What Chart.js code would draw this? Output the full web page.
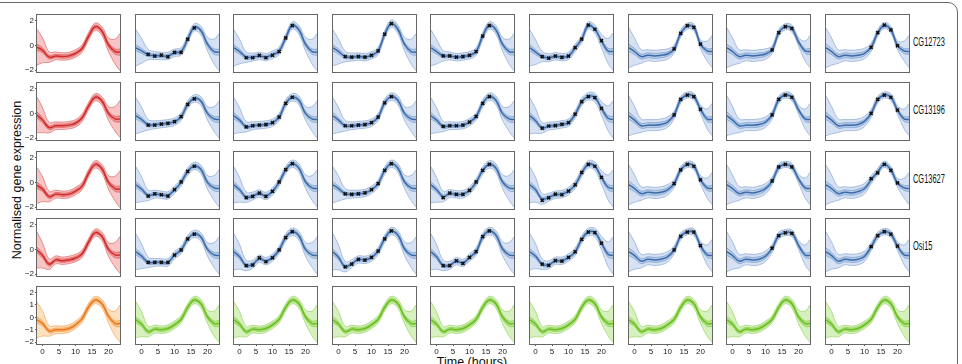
<!DOCTYPE html>
<html>
<head>
    <script src="https://cdn.jsdelivr.net/npm/chart.js"></script>
    <style>
        body {
            margin: 0;
            background: #fff;
            font-family: "DejaVu Sans", Arial, sans-serif;
        }
        #wrap {
            position: relative;
            width: 962px;
            height: 364px;
            overflow: hidden;
        }
        .frame {
            position: absolute;
            left: -14px;
            top: 2px;
            width: 970px;
            height: 420px;
            border: 1.5px solid #666;
            border-radius: 10px;
        }
        canvas {
            position: absolute;
        }
        .gene {
            position: absolute;
            font-family: "Liberation Sans", Arial, sans-serif;
            font-size: 12px;
            line-height: 12px;
            transform: scaleX(0.62);
            transform-origin: left center;
            color: #111;
        }
        .ytitle {
            position: absolute;
            left: 17px;
            top: 180px;
            font-family: "Liberation Sans", Arial, sans-serif;
            font-size: 12.5px;
            white-space: nowrap;
            transform: translate(-50%, -50%) rotate(-90deg);
            color: #111;
        }
        .xtitle {
            position: absolute;
            left: 472px;
            top: 355px;
            font-family: "Liberation Sans", Arial, sans-serif;
            font-size: 12.5px;
            transform: translateX(-50%);
            color: #111;
        }
    </style>
</head>
<body>
<div id="wrap">
    <div class="frame"></div>
    <div class="ytitle">Normalised gene expression</div>
    <div class="xtitle">Time (hours)</div>
</div>

<script>
    // time grid the curves are read at, and tick labels
    const T = [-1.7, 0, 2, 4, 6, 8, 10, 12, 14, 16, 18, 20, 22, 23.5];
    const xTicks = [0, 5, 10, 15, 20];
    const yTicks = [-2, -1, 0, 1, 2];
    const genes = ['CG12723', 'CG13196', 'CG13627', 'Osi15'];

    // observation times for each column (first column has none)
    const early = [2, 4, 6, 8, 10, 12, 14, 16];
    const markTimes = [[], early, early, early, early,
        [2, 4, 6, 8, 10, 12, 14, 16, 18, 20], [12, 14, 16, 18, 20], [12, 14, 16, 18], [12, 14, 16, 18, 20]];

    // band half widths (outer = wide band, inner = narrow band), read at T
    const outerEarly = [1.45, 1.0, 0.42, 0.32, 0.3, 0.3, 0.3, 0.3, 0.3, 0.3, 0.35, 0.55, 1.0, 1.5];
    const innerEarly = [0.25, 0.2, 0.15, 0.14, 0.14, 0.14, 0.14, 0.14, 0.14, 0.14, 0.15, 0.18, 0.22, 0.25];
    const outerLate = [1.6, 1.1, 0.55, 0.45, 0.45, 0.45, 0.42, 0.32, 0.28, 0.25, 0.28, 0.35, 0.8, 1.3];
    const innerLate = [0.3, 0.25, 0.2, 0.2, 0.2, 0.2, 0.18, 0.15, 0.13, 0.12, 0.13, 0.15, 0.2, 0.25];

    // posterior means, one row of panels each
    const meanRow1 = [
        [-0.15, -0.4, -0.95, -0.85, -0.9, -0.85, -0.65, -0.25, 0.75, 1.5, 1.15, 0.05, -0.5, -0.55],
        [-0.2, -0.45, -0.75, -0.82, -0.85, -0.85, -0.6, -0.5, 0.5, 1.45, 1.2, 0.1, -0.5, -0.55],
        [-0.2, -0.5, -0.95, -0.95, -0.85, -0.95, -0.75, -0.45, 0.6, 1.6, 1.25, 0.1, -0.5, -0.55],
        [-0.2, -0.5, -0.9, -0.95, -0.9, -0.95, -0.8, -0.45, 0.9, 1.75, 1.3, 0.1, -0.5, -0.55],
        [-0.2, -0.5, -0.85, -0.85, -0.95, -0.9, -0.8, -0.5, 0.75, 1.6, 1.25, 0.1, -0.5, -0.55],
        [-0.2, -0.55, -0.9, -1.0, -0.88, -0.95, -0.85, -0.2, 0.5, 1.6, 1.3, 0.35, -0.45, -0.5],
        [-0.2, -0.5, -0.9, -0.8, -0.85, -0.8, -0.7, -0.3, 0.95, 1.55, 1.45, 0.1, -0.45, -0.5],
        [-0.2, -0.5, -0.9, -0.8, -0.85, -0.8, -0.7, -0.35, 1.0, 1.5, 1.35, 0.3, -0.45, -0.5],
        [-0.2, -0.5, -0.9, -0.8, -0.85, -0.8, -0.65, -0.15, 1.0, 1.6, 1.25, 0.0, -0.45, -0.5]
    ];
    const meanRow2 = [
        [-0.13, -0.55, -1.15, -1.0, -1.0, -0.95, -0.8, -0.35, 0.6, 1.3, 1.0, 0.0, -0.45, -0.45],
        [-0.2, -0.5, -0.92, -0.92, -0.86, -0.8, -0.67, -0.27, 0.72, 1.2, 1.0, 0.0, -0.45, -0.5],
        [-0.2, -0.55, -1.08, -1.0, -0.95, -0.9, -0.75, -0.3, 0.8, 1.3, 1.05, 0.0, -0.45, -0.5],
        [-0.2, -0.55, -1.0, -1.0, -0.95, -0.9, -0.75, -0.3, 0.85, 1.35, 1.05, 0.0, -0.45, -0.5],
        [-0.2, -0.55, -1.05, -1.0, -1.0, -0.95, -0.7, -0.25, 0.8, 1.35, 1.05, 0.0, -0.45, -0.5],
        [-0.2, -0.6, -1.18, -1.02, -0.98, -0.88, -0.75, -0.08, 0.92, 1.37, 1.27, 0.4, -0.4, -0.5],
        [-0.2, -0.55, -1.0, -0.95, -0.95, -0.9, -0.7, -0.13, 1.1, 1.48, 1.35, 0.33, -0.45, -0.5],
        [-0.2, -0.55, -1.0, -0.95, -0.95, -0.9, -0.7, -0.13, 1.1, 1.48, 1.3, 0.3, -0.45, -0.5],
        [-0.2, -0.55, -1.0, -0.95, -0.95, -0.9, -0.65, 0.0, 1.1, 1.48, 1.3, 0.27, -0.45, -0.5]
    ];
    const meanRow3 = [
        [-0.25, -0.55, -1.15, -0.95, -1.0, -0.95, -0.7, -0.3, 0.75, 1.45, 1.1, 0.0, -0.5, -0.55],
        [-0.2, -0.55, -1.05, -0.95, -1.0, -1.05, -0.6, 0.0, 0.88, 1.32, 1.05, 0.0, -0.45, -0.5],
        [-0.2, -0.6, -1.2, -1.1, -0.9, -1.1, -0.72, 0.0, 1.0, 1.5, 1.15, 0.05, -0.45, -0.5],
        [-0.2, -0.5, -0.92, -0.95, -0.92, -0.85, -0.6, -0.1, 0.95, 1.5, 1.15, 0.05, -0.45, -0.5],
        [-0.2, -0.6, -1.15, -0.9, -0.97, -0.95, -0.65, 0.0, 0.95, 1.45, 1.15, 0.05, -0.45, -0.5],
        [-0.2, -0.6, -1.35, -1.2, -1.0, -0.95, -0.7, -0.2, 0.75, 1.45, 1.3, 0.4, -0.4, -0.5],
        [-0.2, -0.5, -0.9, -0.8, -0.85, -0.8, -0.6, -0.1, 1.0, 1.45, 1.3, 0.2, -0.45, -0.5],
        [-0.2, -0.5, -0.9, -0.8, -0.85, -0.75, -0.5, 0.1, 1.2, 1.45, 1.25, 0.3, -0.45, -0.5],
        [-0.2, -0.5, -0.9, -0.8, -0.85, -0.75, -0.5, 0.2, 0.85, 1.45, 1.0, -0.05, -0.45, -0.5]
    ];
    const meanRow4 = [
        [-0.05, -0.5, -1.2, -0.85, -0.92, -0.85, -0.7, -0.35, 0.6, 1.35, 1.05, 0.0, -0.45, -0.45],
        [-0.2, -0.55, -1.05, -1.05, -1.05, -1.05, -0.46, -0.05, 0.84, 1.25, 1.0, 0.0, -0.45, -0.5],
        [-0.2, -0.6, -1.3, -1.2, -0.75, -0.95, -0.65, -0.05, 0.95, 1.42, 1.1, 0.0, -0.45, -0.5],
        [-0.2, -0.65, -1.4, -1.15, -0.82, -0.85, -0.65, -0.14, 0.85, 1.48, 1.15, 0.05, -0.45, -0.5],
        [-0.2, -0.6, -1.3, -1.28, -0.95, -1.1, -0.65, -0.18, 1.0, 1.48, 1.15, 0.05, -0.45, -0.5],
        [-0.2, -0.55, -1.2, -1.25, -0.92, -0.92, -0.65, -0.2, 0.8, 1.4, 1.35, 0.5, -0.4, -0.5],
        [-0.2, -0.5, -0.95, -0.8, -0.85, -0.8, -0.6, -0.05, 1.05, 1.42, 1.38, 0.3, -0.45, -0.5],
        [-0.2, -0.5, -0.95, -0.8, -0.85, -0.8, -0.55, 0.08, 1.1, 1.35, 1.3, 0.35, -0.45, -0.5],
        [-0.2, -0.5, -0.95, -0.8, -0.85, -0.8, -0.55, 0.2, 1.1, 1.43, 1.22, 0.27, -0.45, -0.5]
    ];
    const meanRow5 = [
        [-0.2, -0.5, -1.1, -1.0, -1.0, -0.9, -0.6, -0.1, 0.85, 1.4, 1.1, 0.1, -0.5, -0.5],
        [-0.2, -0.55, -1.15, -0.95, -1.0, -0.9, -0.6, -0.15, 0.8, 1.4, 1.1, 0.05, -0.5, -0.5],
        [-0.2, -0.55, -1.15, -0.95, -1.0, -0.9, -0.6, -0.15, 0.8, 1.4, 1.1, 0.05, -0.5, -0.5],
        [-0.2, -0.55, -1.15, -0.95, -1.0, -0.9, -0.6, -0.15, 0.8, 1.4, 1.1, 0.05, -0.5, -0.5],
        [-0.2, -0.55, -1.15, -0.95, -1.0, -0.9, -0.6, -0.15, 0.8, 1.4, 1.1, 0.05, -0.5, -0.5],
        [-0.2, -0.55, -1.15, -0.95, -1.0, -0.9, -0.6, -0.15, 0.8, 1.4, 1.1, 0.05, -0.5, -0.5],
        [-0.2, -0.55, -1.15, -0.95, -1.0, -0.9, -0.6, -0.15, 0.8, 1.4, 1.1, 0.05, -0.5, -0.5],
        [-0.2, -0.55, -1.15, -0.95, -1.0, -0.9, -0.6, -0.15, 0.8, 1.4, 1.1, 0.05, -0.5, -0.5],
        [-0.2, -0.55, -1.15, -0.95, -1.0, -0.9, -0.6, -0.15, 0.8, 1.4, 1.1, 0.05, -0.5, -0.5]
    ];
    const means = [meanRow1, meanRow2, meanRow3, meanRow4, meanRow5];

    // observed values (x marks), matching markTimes
    const markRow1 = [[],
        [-0.72, -0.86, -0.78, -0.92, -0.57, -0.57, 0.5, 1.41],
        [-1.0, -1.0, -0.8, -1.0, -0.8, -0.5, 0.6, 1.6],
        [-0.9, -0.95, -0.9, -0.95, -0.8, -0.45, 0.9, 1.75],
        [-0.85, -0.85, -0.95, -0.9, -0.8, -0.5, 0.75, 1.6],
        [-0.91, -1.04, -0.86, -0.96, -0.86, -0.19, 0.51, 1.64, 1.3, 0.38],
        [-0.29, 0.97, 1.59, 1.46, 0.09],
        [-0.37, 1.02, 1.51, 1.38],
        [-0.16, 1.02, 1.64, 1.24, -0.03]];
    const markRow2 = [[],
        [-0.94, -0.94, -0.86, -0.8, -0.67, -0.27, 0.73, 1.16],
        [-1.1, -1.0, -0.95, -0.9, -0.75, -0.3, 0.8, 1.3],
        [-1.0, -1.0, -0.95, -0.9, -0.75, -0.3, 0.85, 1.35],
        [-1.05, -1.0, -1.0, -0.95, -0.7, -0.25, 0.8, 1.35],
        [-1.2, -1.02, -0.99, -0.88, -0.75, -0.07, 0.94, 1.35, 1.27, 0.41],
        [-0.13, 1.13, 1.48, 1.35, 0.33],
        [-0.13, 1.13, 1.48, 1.3],
        [0.0, 1.13, 1.48, 1.3, 0.27]];
    const markRow3 = [[],
        [-1.11, -0.92, -1.0, -1.11, -0.59, 0.03, 0.89, 1.3],
        [-1.24, -1.14, -0.86, -1.14, -0.73, 0.03, 1.03, 1.51],
        [-0.92, -0.97, -0.92, -0.84, -0.59, -0.11, 0.97, 1.51],
        [-1.24, -0.86, -0.97, -0.97, -0.65, 0.03, 0.97, 1.46],
        [-1.45, -1.25, -0.95, -1.0, -0.7, -0.2, 0.8, 1.45, 1.3, 0.4],
        [-0.1, 1.0, 1.45, 1.3, 0.2],
        [0.11, 1.24, 1.46, 1.24],
        [0.3, 0.76, 1.46, 0.97, -0.05]];
    const markRow4 = [[],
        [-1.05, -1.05, -1.05, -1.05, -0.46, -0.05, 0.84, 1.22],
        [-1.32, -1.27, -0.68, -1.0, -0.68, -0.05, 0.95, 1.43],
        [-1.41, -1.19, -0.81, -0.86, -0.65, -0.14, 0.84, 1.49],
        [-1.32, -1.32, -0.92, -1.14, -0.65, -0.19, 1.03, 1.49],
        [-1.2, -1.3, -0.9, -0.95, -0.65, -0.2, 0.8, 1.4, 1.35, 0.5],
        [-0.05, 1.05, 1.4, 1.4, 0.3],
        [0.09, 1.1, 1.34, 1.29],
        [0.22, 1.1, 1.43, 1.22, 0.27]];
    const marks = [markRow1, markRow2, markRow3, markRow4];

    const colours = {
        red:    { line: '#d02a2a', edge: 'rgba(215,60,60,0.75)', outer: 'rgba(232,90,90,0.35)', inner: 'rgba(220,60,60,0.35)' },
        blue:   { line: '#3b6aa8', edge: 'rgba(70,115,180,0.6)', outer: 'rgba(120,160,215,0.3)', inner: 'rgba(100,145,205,0.3)' },
        orange: { line: '#e8791e', edge: 'rgba(235,130,40,0.7)', outer: 'rgba(250,165,70,0.35)', inner: 'rgba(245,140,40,0.35)' },
        green:  { line: '#6cbf1e', edge: 'rgba(110,195,40,0.7)', outer: 'rgba(140,215,70,0.35)', inner: 'rgba(115,200,45,0.35)' }
    };

    const rowTop = [15, 83, 152, 219, 287];
    const plotW = 83, plotH = 57, yAxisW = 21, xAxisH = 14;

    const framePlugin = {
        id: 'frame',
        afterDatasetsDraw(chart) {
            let a = chart.chartArea, ctx = chart.ctx;
            ctx.save();
            ctx.strokeStyle = '#666';
            ctx.lineWidth = 1;
            ctx.strokeRect(Math.round(a.left) - 0.5, Math.round(a.top) - 0.5,
                Math.round(a.right - a.left) + 1, Math.round(a.bottom - a.top) + 1);
            ctx.restore();
        }
    };

    function band(mean, width, sign) {
        return T.map((t, i) => ({ x: t, y: mean[i] + sign * width[i] }));
    }

    function makePanel(r, c) {
        let kind = r === 4 ? (c === 0 ? 'orange' : 'green') : (c === 0 ? 'red' : 'blue');
        let pal = colours[kind];
        let mean = means[r][c];
        let late = kind === 'blue' && c >= 6;
        let outer = late ? outerLate : outerEarly;
        let inner = late ? innerLate : innerEarly;
        let leftAxis = c === 0, bottomAxis = r === 4;

        let left = Math.round(37 + c * 98.6);
        let canvas = document.createElement('canvas');
        let w = plotW + 2 + (leftAxis ? yAxisW : 0);
        let h = plotH + 2 + (bottomAxis ? xAxisH : 0);
        canvas.width = w;
        canvas.height = h;
        canvas.style.width = w + 'px';
        canvas.style.height = h + 'px';
        canvas.style.left = (left - 1 - (leftAxis ? yAxisW : 0)) + 'px';
        canvas.style.top = (rowTop[r] - 1) + 'px';
        document.getElementById('wrap').appendChild(canvas);

        let line = { pointRadius: 0, tension: 0.4, borderWidth: 0.7 };
        let datasets = [];
        if (kind === 'blue') {
            datasets.push({
                data: markTimes[c].map((t, i) => ({ x: t, y: marks[r][c][i] })),
                showLine: false, pointStyle: 'crossRot', pointRadius: 2.2,
                borderColor: '#111', borderWidth: 1.6, backgroundColor: '#111'
            });
        }
        datasets.push({ ...line, data: T.map((t, i) => ({ x: t, y: mean[i] })), borderColor: pal.line, borderWidth: 1.5, fill: false });
        datasets.push({ ...line, data: band(mean, inner, 1), borderColor: pal.edge, fill: '+1', backgroundColor: pal.inner });
        datasets.push({ ...line, data: band(mean, inner, -1), borderColor: pal.edge, fill: false });
        datasets.push({ ...line, data: band(mean, outer, 1), borderColor: pal.edge, fill: '+1', backgroundColor: pal.outer });
        datasets.push({ ...line, data: band(mean, outer, -1), borderColor: pal.edge, fill: false });

        new Chart(canvas.getContext('2d'), {
            type: 'line',
            data: { datasets: datasets },
            options: {
                responsive: false,
                maintainAspectRatio: false,
                animation: false,
                devicePixelRatio: 1,
                layout: { padding: 1, autoPadding: false },
                plugins: { legend: { display: false }, tooltip: { enabled: false } },
                scales: {
                    x: {
                        type: 'linear', min: -1.7, max: 23.5, display: bottomAxis,
                        afterBuildTicks: s => { s.ticks = xTicks.map(v => ({ value: v })); },
                        afterFit: s => {
                            s.height = bottomAxis ? xAxisH : 0;
                            s.paddingLeft = 0; s.paddingRight = 0;
                        },
                        ticks: { display: bottomAxis, font: { size: 8 }, color: '#222', padding: 1, maxRotation: 0 },
                        grid: { drawOnChartArea: false, tickLength: 2, color: '#555' },
                        border: { display: false }
                    },
                    y: {
                        min: -2.15, max: 2.45, display: leftAxis,
                        afterBuildTicks: s => { s.ticks = yTicks.map(v => ({ value: v })); },
                        afterFit: s => {
                            s.width = leftAxis ? yAxisW : 0;
                            s.paddingTop = 0; s.paddingBottom = 0;
                        },
                        ticks: { display: leftAxis, font: { size: 8 }, color: '#222', padding: 1,
                            callback: v => (v < 0 ? '\u2212' + Math.abs(v) : '' + v) },
                        grid: { drawOnChartArea: false, tickLength: 2, color: '#555' },
                        border: { display: false }
                    }
                }
            },
            plugins: [framePlugin]
        });
    }

    for (let r = 0; r < 5; r++) {
        for (let c = 0; c < 9; c++) {
            makePanel(r, c);
        }
    }

    genes.forEach((g, i) => {
        let d = document.createElement('div');
        d.className = 'gene';
        d.textContent = g;
        d.style.left = '913px';
        d.style.top = (rowTop[i] + 21) + 'px';
        document.getElementById('wrap').appendChild(d);
    });
</script>
</body>
</html>
